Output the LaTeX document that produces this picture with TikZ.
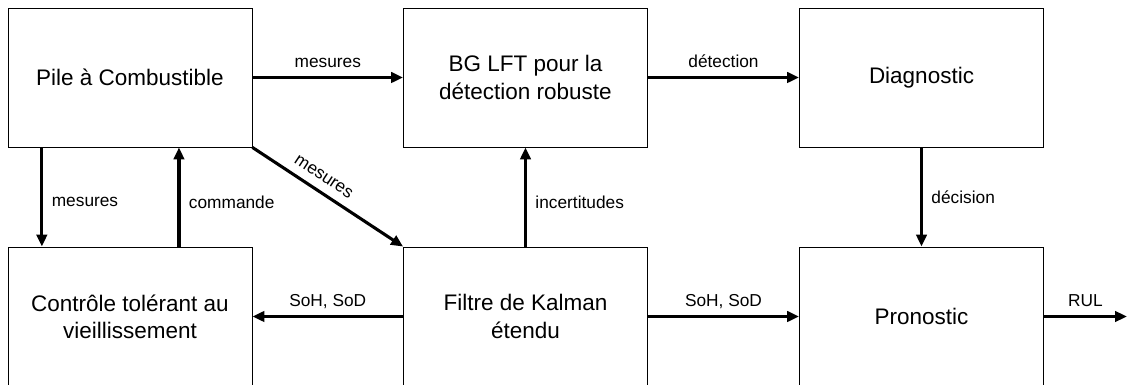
\documentclass[tikz,border=0pt]{standalone}
\usepackage{fontspec}
\setmainfont{Liberation Sans}
\usetikzlibrary{positioning, calc, arrows.meta}

\tikzset{
  bloc/.style={draw, line width=0.6pt, minimum width=6.1cm, minimum height=3.475cm,
    align=center, inner sep=0pt, font=\fontsize{16}{19.3}\selectfont},
  fleche/.style={line width=2.2pt, -{Triangle[length=0.3cm, width=0.26cm]}},
  etiq/.style={font=\fontsize{12.3}{14}\selectfont, inner sep=6pt, text depth=0pt},
}

\begin{document}
\begin{tikzpicture}
    \useasboundingbox (0, 0) rectangle (28.175, -9.625);

    % Les blocs
    \node[bloc] (pile) at (3.25, -1.9375) {Pile à Combustible};
    \node[bloc] (bglft) at (13.1375, -1.9375) {BG LFT pour la\\détection robuste};
    \node[bloc] (diag) at (23.0375, -1.9375) {Diagnostic};

    \node[bloc] (ctrl) at (3.25, -7.9125) {Contrôle tolérant au\\vieillissement};
    \node[bloc] (ekf) at (13.1375, -7.9125) {Filtre de Kalman\\étendu};
    \node[bloc] (prono) at (23.0375, -7.9125) {Pronostic};

    \coordinate (rul) at (28.175, -7.9125);

    % Les fleches
    \draw[fleche] (pile) -- node[etiq, above] {mesures} (bglft);
    \draw[fleche] (bglft) -- node[etiq, above] {détection} (diag);

    \draw[fleche] ($(pile.south west)!0.14!(pile.south east)$)
      -- node[etiq, right, pos=0.55] {mesures} ($(ctrl.north west)!0.14!(ctrl.north east)$);
    \draw[fleche] ($(ctrl.north west)!0.70!(ctrl.north east)$)
      -- node[etiq, right, pos=0.45] {commande} ($(pile.south west)!0.70!(pile.south east)$);

    \draw[fleche] (pile.south east) -- node[etiq, above, sloped, pos=0.42] {mesures} (ekf.north west);

    \draw[fleche] (ekf) -- node[etiq, right, pos=0.45] {incertitudes} (bglft);
    \draw[fleche] (diag) -- node[etiq, right] {décision} (prono);

    \draw[fleche] (ekf) -- node[etiq, above] {SoH, SoD} (ctrl);
    \draw[fleche] (ekf) -- node[etiq, above] {SoH, SoD} (prono);
    \draw[fleche] (prono) -- node[etiq, above] {RUL} (rul);
\end{tikzpicture}
\end{document}
